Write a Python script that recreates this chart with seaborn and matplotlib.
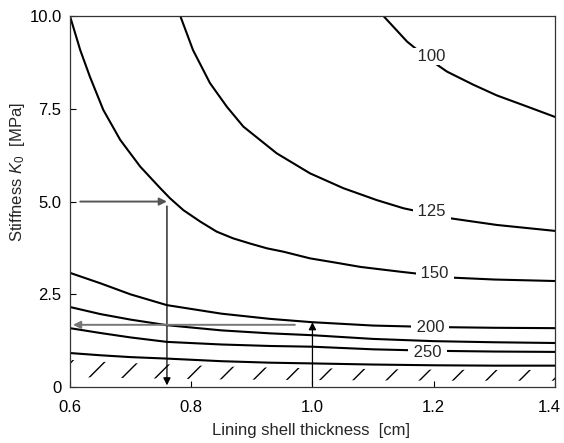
import matplotlib
matplotlib.use("Agg")
import matplotlib.pyplot as plt
import matplotlib.transforms as mtransforms
import numpy as np
import pandas as pd
import seaborn as sns

# Read-off points of each design curve (lining shell thickness [cm] -> stiffness K0 [MPa])
x_100 = [1.117, 1.156, 1.19, 1.222, 1.265, 1.304, 1.354, 1.40]
k_100 = [10.0, 9.31, 8.86, 8.50, 8.15, 7.86, 7.56, 7.28]

x_125 = [0.782, 0.803, 0.831, 0.859, 0.886, 0.941, 0.996, 1.051, 1.106, 1.15, 1.227, 1.304, 1.40]
k_125 = [10.0, 9.08, 8.19, 7.55, 7.02, 6.30, 5.76, 5.36, 5.04, 4.82, 4.55, 4.37, 4.21]

x_150 = [0.60, 0.617, 0.633, 0.655, 0.683, 0.716, 0.749, 0.765, 0.787, 0.815, 0.842, 0.869,
         0.897, 0.925, 0.952, 0.996, 1.04, 1.079, 1.145, 1.232, 1.30, 1.40]
k_150 = [10.0, 9.08, 8.36, 7.47, 6.66, 5.94, 5.36, 5.09, 4.77, 4.46, 4.19, 4.01,
         3.87, 3.74, 3.65, 3.47, 3.35, 3.24, 3.11, 2.95, 2.90, 2.86]

x_low = [0.60, 0.65, 0.70, 0.76, 0.85, 0.93, 1.0, 1.10, 1.20, 1.30, 1.40]
k_200 = [3.08, 2.80, 2.50, 2.21, 1.98, 1.84, 1.75, 1.66, 1.62, 1.60, 1.59]
k_225 = [2.16, 1.97, 1.82, 1.67, 1.53, 1.45, 1.40, 1.30, 1.24, 1.21, 1.19]
k_250 = [1.59, 1.46, 1.34, 1.22, 1.15, 1.11, 1.09, 1.02, 0.98, 0.96, 0.95]
k_limit = [0.92, 0.86, 0.81, 0.77, 0.70, 0.66, 0.64, 0.61, 0.59, 0.58, 0.58]

# Curve labels and where they sit on the curves
curve_labels = ["100", "125", "150", "200", "250"]
label_x = [1.197, 1.197, 1.202, 1.194, 1.19]
label_k = [8.90, 4.74, 3.05, 1.62, 0.94]

# Worked examples shown by arrows
ex1_k, ex1_t = 5.0, 0.76
ex2_t, ex2_k = 1.0, 1.72

x_ticks = [0.6, 0.8, 1.0, 1.2, 1.4]
x_ticklabels = ["0.6", "0.8", "1.0", "1.2", "1.4"]
y_ticks = [0, 2.5, 5.0, 7.5, 10.0]
y_ticklabels = ["0", "2.5", "5.0", "7.5", "10.0"]

frames = [
    pd.DataFrame({"thickness": x_100, "stiffness": k_100, "curve": "100"}),
    pd.DataFrame({"thickness": x_125, "stiffness": k_125, "curve": "125"}),
    pd.DataFrame({"thickness": x_150, "stiffness": k_150, "curve": "150"}),
    pd.DataFrame({"thickness": x_low, "stiffness": k_200, "curve": "200"}),
    pd.DataFrame({"thickness": x_low, "stiffness": k_225, "curve": "225"}),
    pd.DataFrame({"thickness": x_low, "stiffness": k_250, "curve": "250"}),
    pd.DataFrame({"thickness": x_low, "stiffness": k_limit, "curve": "limit"}),
]
df = pd.concat(frames, ignore_index=True)

sns.set_style("ticks")
plt.rcParams["font.family"] = ["Liberation Sans", "DejaVu Sans"]
plt.rcParams["mathtext.fontset"] = "custom"
plt.rcParams["mathtext.rm"] = "Liberation Sans"
plt.rcParams["mathtext.it"] = "Liberation Sans:italic"
plt.rcParams["hatch.linewidth"] = 1.0

fig = plt.figure(figsize=(5.64, 4.43), dpi=100)
ax = fig.add_axes([0.124, 0.126, 0.86, 0.838])

sns.lineplot(
    data=df, x="thickness", y="stiffness", units="curve", estimator=None,
    sort=False, color="black", linewidth=1.5, ax=ax, legend=False,
)

# hatched band below the limit curve
lim = np.array(k_limit)
ax.fill_between(x_low, 0.3 * lim, 0.8 * lim, facecolor="none",
                edgecolor="black", hatch="/", linewidth=0)

for lab, lx, lk in zip(curve_labels, label_x, label_k):
    ax.text(lx, lk, f" {lab} ", ha="center", va="center", fontsize=12,
            bbox=dict(boxstyle="square,pad=0.05", facecolor="white", edgecolor="none"))

# example 1: K0 = 5.0 -> thickness
ax.annotate("", xy=(ex1_t, ex1_k), xytext=(0.617, ex1_k),
            arrowprops=dict(arrowstyle="-|>", color="#555555", lw=1.4, mutation_scale=11,
                            shrinkA=0, shrinkB=0))
ax.annotate("", xy=(ex1_t, 0.05), xytext=(ex1_t, ex1_k - 0.12),
            arrowprops=dict(arrowstyle="-|>", color="black", lw=0.9, mutation_scale=11,
                            shrinkA=0, shrinkB=0))
# example 2: thickness 1.0 -> K0
ax.annotate("", xy=(ex2_t, ex2_k + 0.03), xytext=(ex2_t, 0.05),
            arrowprops=dict(arrowstyle="-|>", color="black", lw=0.9, mutation_scale=11,
                            shrinkA=0, shrinkB=0))
ax.annotate("", xy=(0.605, ex2_k - 0.04), xytext=(0.971, ex2_k - 0.04),
            arrowprops=dict(arrowstyle="-|>", color="#777777", lw=1.4, mutation_scale=11,
                            shrinkA=0, shrinkB=0))

ax.set_xlim(0.6, 1.4)
ax.set_ylim(0, 10.0)
ax.set_xticks(x_ticks, x_ticklabels)
ax.set_yticks(y_ticks, y_ticklabels)
ax.tick_params(direction="in", length=4, width=0.8, labelsize=12, colors="black")
ax.tick_params(axis="x", pad=9)
ax.tick_params(axis="y", pad=6)
for sp in ax.spines.values():
    sp.set_visible(True)
    sp.set_linewidth(0.9)
    sp.set_color("#333333")

# last x tick label sits a little inside the frame, as in the original
last = ax.get_xticklabels()[-1]
last.set_transform(last.get_transform() + mtransforms.ScaledTranslation(-6 / 100, 0, fig.dpi_scale_trans))

ax.set_xlabel("Lining shell thickness  [cm]", fontsize=12)
ax.set_ylabel("Stiffness $K_0$  [MPa]", fontsize=12)
ax.xaxis.set_label_coords(0.497, -0.097)
ax.yaxis.set_label_coords(-0.089, 0.58)

fig.savefig("out.png", dpi=100)
plt.close(fig)
